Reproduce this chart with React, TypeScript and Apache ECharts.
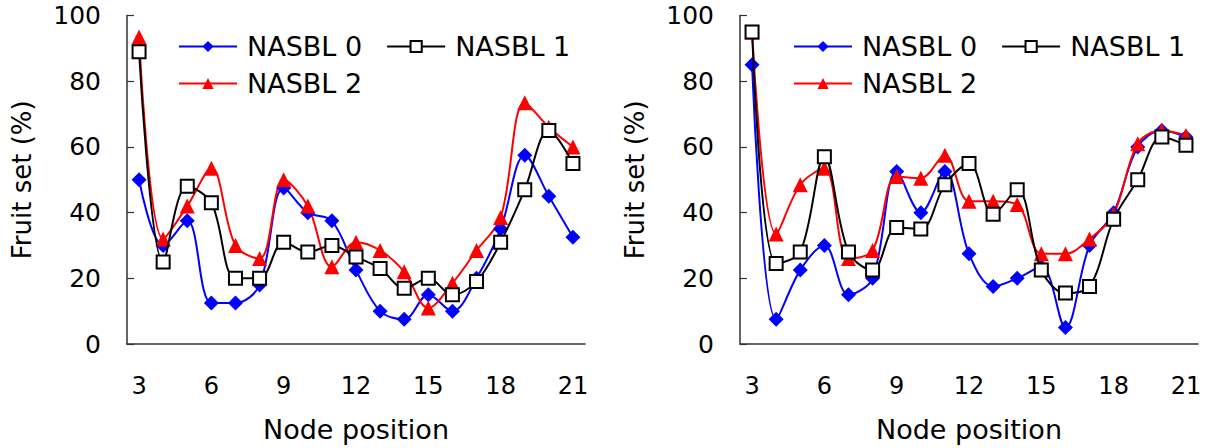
import React, { useEffect, useRef } from "react";
import * as echarts from "echarts";

const nodes = ["3","4","5","6","7","8","9","10","11","12","13","14","15","16","17","18","19","20","21"];
const seriesNames = ["NASBL 0", "NASBL 1", "NASBL 2"];

const leftNasbl0 = [50, 30, 37.5, 12.5, 12.5, 18, 47.5, 40, 37.5, 22.5, 10, 7.5, 15, 10, 20, 35, 57.5, 45, 32.5];
const leftNasbl1 = [89, 25, 48, 43, 20, 20, 31, 28, 30, 26.5, 23, 17, 20, 15, 19, 31, 47, 65, 55];
const leftNasbl2 = [93.5, 32, 42, 53.5, 30, 26, 50, 42, 23.5, 31, 28.5, 22, 11, 18.5, 28.5, 38.5, 73.5, 66, 60];

const rightNasbl0 = [85, 7.5, 22.5, 30, 15, 20, 52.5, 40, 52.5, 27.5, 17.5, 20, 23.5, 5, 30, 40, 60, 65, 63];
const rightNasbl1 = [95, 24.5, 28, 57, 28, 22.5, 35.5, 35, 48.5, 55, 39.5, 47, 22.5, 15.5, 17.5, 38, 50, 63, 60.5];
const rightNasbl2 = [95, 33.5, 48.5, 53.5, 26, 28.5, 51, 50.5, 57.5, 43.5, 43.5, 42.5, 27.5, 27.5, 32, 39.5, 61, 65, 63.5];

const yTicks = [0, 20, 40, 60, 80, 100];

const FONT = "DejaVu Sans";
const AXIS_COLOR = "#333333";

function buildGrid(left: number, right: number) {
  return { left, right, top: 15.6, bottom: 99, containLabel: false };
}

function buildX(gridIndex: number) {
  return {
    type: "category",
    gridIndex,
    data: nodes,
    boundaryGap: true,
    name: "Node position",
    nameLocation: "middle",
    nameGap: 72,
    nameTextStyle: { fontFamily: FONT, fontSize: 27, color: "#000" },
    axisLine: { lineStyle: { color: AXIS_COLOR, width: 1.5 } },
    axisTick: { inside: true, length: 8, interval: 0, lineStyle: { color: AXIS_COLOR, width: 1.2 } },
    axisLabel: { interval: 2, fontFamily: FONT, fontSize: 24, color: "#000", margin: 30 },
    splitLine: { show: false },
  };
}

function buildY(gridIndex: number) {
  return {
    type: "value",
    gridIndex,
    min: yTicks[0],
    max: yTicks[yTicks.length - 1],
    interval: 20,
    name: "Fruit set (%)",
    nameLocation: "middle",
    nameGap: 92,
    nameRotate: 90,
    nameTextStyle: { fontFamily: FONT, fontSize: 26, color: "#000" },
    axisLine: { show: true, lineStyle: { color: AXIS_COLOR, width: 1.5 } },
    axisTick: { show: true, inside: true, length: 7, lineStyle: { color: AXIS_COLOR, width: 1.2 } },
    axisLabel: { fontFamily: FONT, fontSize: 25, color: "#000", margin: 26 },
    splitLine: { show: false },
  };
}

const styles = [
  { color: "#0000ff", symbol: "diamond", symbolSize: 15, itemStyle: { color: "#0000ff" } },
  { color: "#000000", symbol: "rect", symbolSize: 13, itemStyle: { color: "#ffffff", borderColor: "#000000", borderWidth: 2 } },
  { color: "#ff0000", symbol: "triangle", symbolSize: 15, itemStyle: { color: "#ff0000" } },
];

function buildSeries(idx: number, data: number[], s: number) {
  const st = styles[s];
  return {
    type: "line",
    name: seriesNames[s],
    xAxisIndex: idx,
    yAxisIndex: idx,
    data,
    smooth: 0.35,
    symbol: st.symbol,
    symbolSize: st.symbolSize,
    showSymbol: true,
    lineStyle: { color: st.color, width: 2 },
    itemStyle: st.itemStyle,
    z: 2 + (s === 1 ? 1 : 0),
  };
}

function buildLegend(left: number, top: number, data: string[]) {
  return {
    left,
    top,
    orient: "horizontal",
    data,
    itemWidth: 58,
    itemHeight: 14,
    itemGap: 24,
    selectedMode: false,
    textStyle: { fontFamily: FONT, fontSize: 27, color: "#000", padding: [0, 0, 0, 5] },
  };
}

export default function App() {
  const ref = useRef<HTMLDivElement | null>(null);
  useEffect(() => {
    document.body.style.margin = "0";
    if (!ref.current) return;
    const chart = echarts.init(ref.current, undefined, { renderer: "svg" });
    chart.setOption({
      animation: false,
      backgroundColor: "#ffffff",
      grid: [buildGrid(127, 621), buildGrid(740, 8)],
      xAxis: [buildX(0), buildX(1)],
      yAxis: [buildY(0), buildY(1)],
      legend: [
        buildLegend(173, 28, ["NASBL 0", "NASBL 1"]),
        buildLegend(173, 65, ["NASBL 2"]),
        buildLegend(788, 28, ["NASBL 0", "NASBL 1"]),
        buildLegend(788, 65, ["NASBL 2"]),
      ],
      series: [
        buildSeries(0, leftNasbl0, 0),
        buildSeries(0, leftNasbl1, 1),
        buildSeries(0, leftNasbl2, 2),
        buildSeries(1, rightNasbl0, 0),
        buildSeries(1, rightNasbl1, 1),
        buildSeries(1, rightNasbl2, 2),
      ],
    });
    return () => chart.dispose();
  }, []);
  return <div ref={ref} style={{ width: 1206, height: 448 }} />;
}
